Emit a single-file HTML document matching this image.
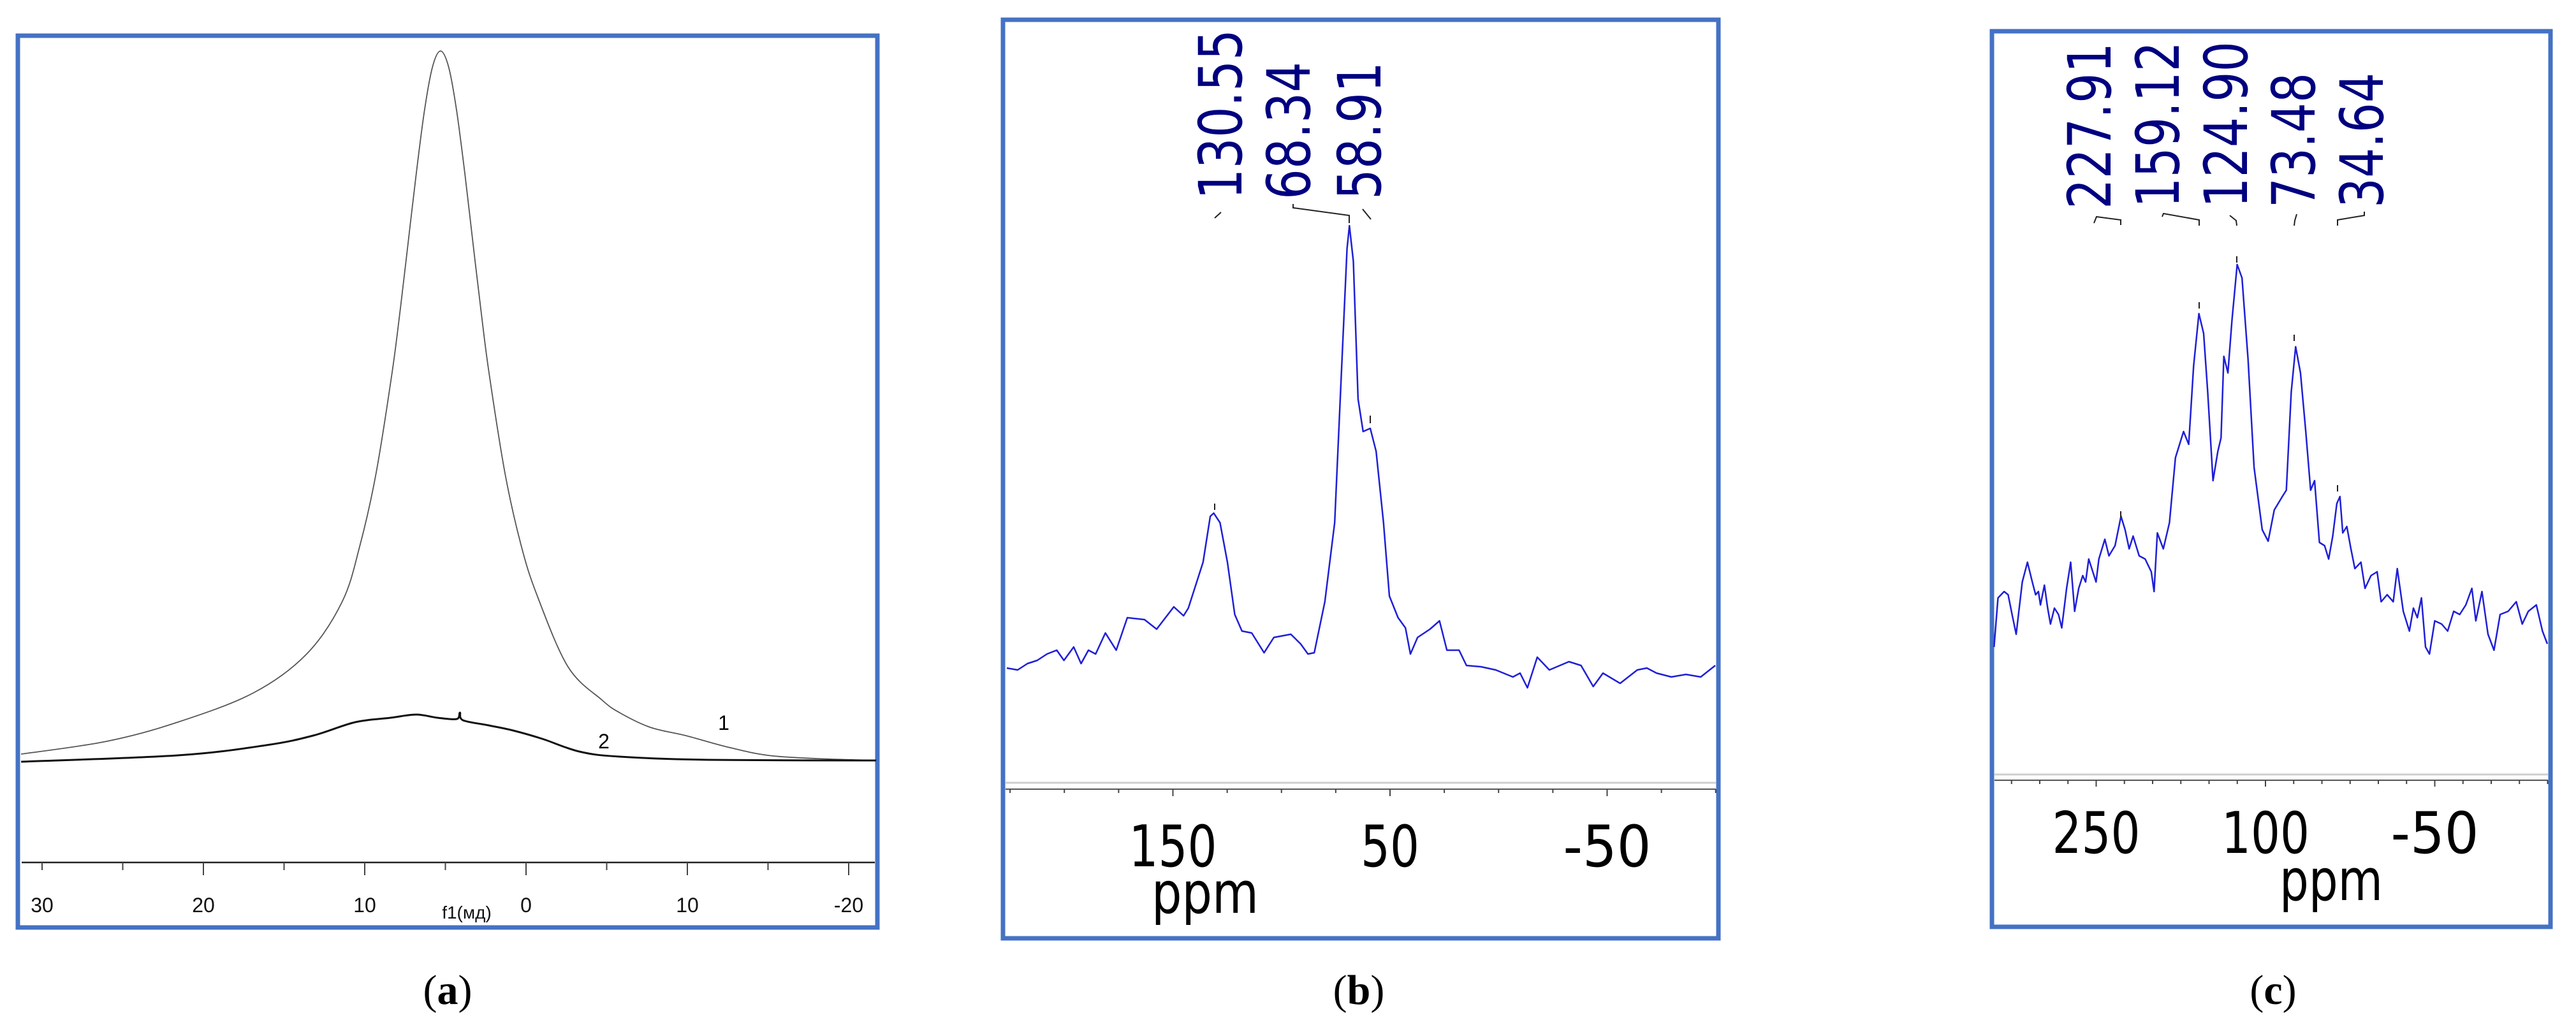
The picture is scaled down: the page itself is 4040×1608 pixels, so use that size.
<!DOCTYPE html>
<html><head><meta charset="utf-8"><style>
html,body{margin:0;padding:0;background:#fff;}
svg{display:block;}
</style></head><body>
<svg id="fig" width="4040" height="1608" viewBox="0 0 4040 1608" xmlns="http://www.w3.org/2000/svg">
<rect width="4040" height="1608" fill="#fff"/>
<g id="pa"></g>
<g id="pb"></g>
<g id="pc"></g>
</svg>
<script>
// ---------- Panel (a) data ----------
const aTickValues=[30,20,10,0,-10,-20];
const aTickLabels=["30","20","10","0","10","-20"];
const a1Ppm=[31.3,26,21.6,16.9,13.6,11.4,10.3,9.3,8.3,7.8,7.3,6.8,6.3,5.8,5.3,4.8,4.3,3.8,3.3,2.8,2.3,1.3,0.3,-0.7,-2.6,-4.7,-5.8,-7.7,-9.9,-12.5,-15,-18,-21.7];
const a1Int=[10,30,60,106,167,249,337,450,609,707,814,922,1019,1088,1113,1088,1019,922,814,707,609,450,337,258,147,95,75,52,39,21,8,3,0];
const a2Ppm=[31.3,21.6,16.1,13.2,10.6,8.4,6.8,5.5,4.3,4.1,3.9,2.3,0.8,-1.0,-3.3,-5.8,-11.3,-21.7];
const a2Int=[-2,8,24,39,60,67,72,67,65,75,63,55,47,34,14,6,1,0];
// ---------- Panel (b) data ----------
const bTickValues=[150,50,-50];
const bTickLabels=["150","50","-50"];
const bPeakLabels=["130.55","68.34","58.91"];
const bPpm=[226.5,221.5,217.0,212.5,208.0,203.5,200.2,195.7,192.3,188.9,185.6,181.1,176.1,171.0,163.1,157.5,149.6,145.1,142.9,136.1,132.8,131.2,128.3,124.9,121.5,118.2,113.7,108.0,103.5,95.7,91.2,87.8,84.9,80.0,75.5,72.1,69.8,68.7,66.9,64.7,62.4,59.1,56.4,53.0,50.3,46.3,42.9,40.6,37.3,31.6,27.2,23.8,18.2,14.8,8.1,1.3,-6.6,-9.9,-13.3,-17.8,-23.4,-32.4,-38.0,-43.6,-48.1,-56.0,-63.9,-68.3,-72.8,-79.6,-86.3,-93.1,-99.8];
const bInt=[190,187,197,202,212,218,202,223,197,218,212,245,218,269,266,251,286,272,284,356,428,433,418,356,274,248,245,214,238,243,228,212,214,294,418,674,848,884,828,612,561,566,530,418,303,269,253,212,238,251,264,218,218,194,192,187,176,182,159,207,187,200,194,161,182,166,187,190,182,176,180,176,194];
// ---------- Panel (c) data ----------
const cTickValues=[250,100,-50];
const cTickLabels=["250","100","-50"];
const cPeakLabels=["227.91","159.12","124.90","73.48","34.64"];
const cPpm=[340.5,337.0,331.6,328.0,324.5,320.9,315.5,310.9,306.6,303.7,301.2,299.4,295.9,293.0,290.5,287.0,283.4,280.5,276.2,272.6,269.1,265.5,261.9,259.4,256.6,253.0,250.1,247.6,242.3,238.7,233.3,228.0,224.4,220.8,217.3,211.9,206.6,201.2,198.7,195.8,190.5,185.1,179.8,172.6,168.0,163.7,159.0,154.8,151.2,146.5,142.2,139.4,136.9,133.3,129.7,125.1,120.8,115.4,110.1,102.9,97.6,92.2,85.1,81.5,77.2,73.3,69.0,64.3,60.0,56.5,52.2,47.6,44.0,40.4,36.8,34.0,31.5,27.9,24.3,20.8,15.4,11.8,6.5,1.1,-2.5,-7.8,-13.2,-16.8,-22.1,-27.5,-31.1,-34.6,-38.2,-41.8,-45.3,-50.0,-56.1,-61.4,-66.8,-72.1,-77.5,-82.9,-86.4,-91.8,-97.2,-102.5,-107.9,-115.0,-122.2,-127.5,-132.9,-140.0,-145.4,-149.7];
const cInt=[209,286,296,291,260,229,311,342,311,291,296,275,306,270,245,270,260,239,301,342,265,301,321,311,347,327,311,347,378,352,368,414,393,363,383,352,347,327,296,388,363,404,506,547,527,650,732,701,609,470,516,537,665,639,721,809,788,660,491,393,375,424,445,455,609,680,639,547,455,470,373,368,347,383,434,445,388,398,363,332,342,301,321,327,280,291,280,332,265,234,270,255,286,209,198,250,245,234,265,260,275,301,250,296,229,204,260,265,280,245,265,275,234,214];

const NS="http://www.w3.org/2000/svg";
function mk(parent,tag,attrs){const e=document.createElementNS(NS,tag);for(const k in attrs)e.setAttribute(k,attrs[k]);parent.appendChild(e);return e;}
function smoothPath(pts){let d="M"+pts[0][0].toFixed(1)+","+pts[0][1].toFixed(1);
 for(let i=0;i<pts.length-1;i++){const p0=pts[Math.max(0,i-1)],p1=pts[i],p2=pts[i+1],p3=pts[Math.min(pts.length-1,i+2)];
  const c1x=p1[0]+(p2[0]-p0[0])/6,c1y=p1[1]+(p2[1]-p0[1])/6,c2x=p2[0]-(p3[0]-p1[0])/6,c2y=p2[1]-(p3[1]-p1[1])/6;
  d+=" C"+c1x.toFixed(1)+","+c1y.toFixed(1)+" "+c2x.toFixed(1)+","+c2y.toFixed(1)+" "+p2[0].toFixed(1)+","+p2[1].toFixed(1);}
 return d;}
function frame(g,x,y,w,h){const r=mk(g,"rect",{x:x,y:y,width:w,height:h,fill:"none",stroke:"#4472C4","stroke-width":7});
 
 }
function caption(g,x,letter){const t=mk(g,"text",{x:x,y:1575,"text-anchor":"middle","font-family":"Liberation Serif, serif","font-size":66,fill:"#000"});
 
 
 t.innerHTML='(<tspan font-weight="bold">'+letter+'</tspan>)';}

// ---------- Panel a ----------
(function(){
 const g=document.getElementById('pa');
 const xA=p=>825-25.3*p, yA=v=>1193-v;
 frame(g,28,56,1348,1399);
 const ax=mk(g,"line",{x1:34,y1:1353,x2:1372,y2:1353,stroke:"#222","stroke-width":2.5});
 
 
 for(let v=30;v>=-20;v-=5){const major=(v%10===0)&&v!==30;
  const t=mk(g,"line",{x1:xA(v),y1:1353,x2:xA(v),y2:1353+(major?20:12),stroke:"#444","stroke-width":2});
  
  }
 aTickValues.forEach((v,i)=>{const t=mk(g,"text",{x:xA(v),y:1431,"text-anchor":"middle","font-family":"Liberation Sans, sans-serif","font-size":32,fill:"#111"});
  
  
  t.textContent=aTickLabels[i];});
 const xt=mk(g,"text",{x:732,y:1441,"text-anchor":"middle","font-family":"Liberation Sans, sans-serif","font-size":28,fill:"#111"});
 
 
 xt.textContent="f1(мд)";
 const p1=mk(g,"path",{d:smoothPath(a1Ppm.map((p,i)=>[xA(p),yA(a1Int[i])])),fill:"none",stroke:"#555","stroke-width":1.8});
 
 
 const p2=mk(g,"path",{d:smoothPath(a2Ppm.map((p,i)=>[xA(p),yA(a2Int[i])])),fill:"none",stroke:"#111","stroke-width":3});
 
 
 const l1=mk(g,"text",{x:1135,y:1145,"text-anchor":"middle","font-family":"Liberation Sans, sans-serif","font-size":32,fill:"#000"});
 
 
 l1.textContent="1";
 const l2=mk(g,"text",{x:947,y:1174,"text-anchor":"middle","font-family":"Liberation Sans, sans-serif","font-size":32,fill:"#000"});
 
 
 l2.textContent="2";
 caption(g,702,"a");
})();

function peakLabel(g,cx,bottom,len,txt){
 const t=mk(g,"text",{x:0,y:0,transform:"translate("+(cx+34)+","+bottom+") rotate(-90)","font-family":"DejaVu Sans, sans-serif","font-size":94,fill:"#000080",textLength:len,lengthAdjust:"spacingAndGlyphs"});
 
 
 t.textContent=txt;}
function lead(g,pts){const l=mk(g,"polyline",{points:pts.map(p=>p.join(",")).join(" "),fill:"none",stroke:"#222","stroke-width":2});
 
 }

// ---------- Panel b ----------
(function(){
 const g=document.getElementById('pb');
 const xB=p=>2180-(p-50)*3.405, yB=v=>1238-v;
 frame(g,1573,31,1122,1441);
 const gl=mk(g,"line",{x1:1577,y1:1228,x2:2691,y2:1228,stroke:"#cfcfcf","stroke-width":3});
 
 
 const ax=mk(g,"line",{x1:1577,y1:1238,x2:2691,y2:1238,stroke:"#555","stroke-width":2});
 
 
 for(let v=225;v>=-100;v-=25){const major=(v-50)%100===0;
  const t=mk(g,"line",{x1:xB(v),y1:1238,x2:xB(v),y2:1238+(major?11:6),stroke:"#444","stroke-width":2});
  
  }
 bTickValues.forEach((v,i)=>{const t=mk(g,"text",{x:xB(v),y:1359,"text-anchor":"middle","font-family":"DejaVu Sans, sans-serif","font-size":90,fill:"#000",textLength:bTickLabels[i].length*46,lengthAdjust:"spacingAndGlyphs"});
  
  
  t.textContent=bTickLabels[i];});
 const xt=mk(g,"text",{x:1890,y:1432,"text-anchor":"middle","font-family":"DejaVu Sans, sans-serif","font-size":90,fill:"#000",textLength:168,lengthAdjust:"spacingAndGlyphs"});
 
 
 xt.textContent="ppm";
 const sp=mk(g,"polyline",{points:bPpm.map((p,i)=>xB(p).toFixed(1)+","+yB(bInt[i]).toFixed(1)).join(" "),fill:"none",stroke:"#1f1fd6","stroke-width":2.5,"stroke-linejoin":"round"});
 
 
 const lx=[1913,2020,2131], lb=[313,313,313], ll=[267,216,216];
 bPeakLabels.forEach((s,i)=>peakLabel(g,lx[i],lb[i],ll[i],s));
 lead(g,[[1905,342],[1915,333]]);
 lead(g,[[2028,320],[2028,326],[2116,338],[2116,350]]);
 lead(g,[[2137,328],[2141,333],[2150,344]]);
 lead(g,[[1905,790],[1905,800]]);
 lead(g,[[2149,652],[2149,664]]);
 caption(g,2131,"b");
})();

// ---------- Panel c ----------
(function(){
 const g=document.getElementById('pc');
 const xC=p=>3553-(p-100)*1.77, yC=v=>1224-v;
 frame(g,3124,49,876,1405);
 const gl=mk(g,"line",{x1:3128,y1:1215,x2:3996,y2:1215,stroke:"#cfcfcf","stroke-width":3});
 
 
 const ax=mk(g,"line",{x1:3128,y1:1224,x2:3996,y2:1224,stroke:"#555","stroke-width":2});
 
 
 for(let v=325;v>=-150;v-=25){const major=(v-100)%150===0;
  const t=mk(g,"line",{x1:xC(v),y1:1224,x2:xC(v),y2:1224+(major?10:6),stroke:"#444","stroke-width":2});
  
  }
 cTickValues.forEach((v,i)=>{const t=mk(g,"text",{x:xC(v),y:1338,"text-anchor":"middle","font-family":"DejaVu Sans, sans-serif","font-size":90,fill:"#000",textLength:cTickLabels[i].length*46,lengthAdjust:"spacingAndGlyphs"});
  
  
  t.textContent=cTickLabels[i];});
 const xt=mk(g,"text",{x:3656,y:1412,"text-anchor":"middle","font-family":"DejaVu Sans, sans-serif","font-size":90,fill:"#000",textLength:162,lengthAdjust:"spacingAndGlyphs"});
 
 
 xt.textContent="ppm";
 const sp=mk(g,"polyline",{points:cPpm.map((p,i)=>xC(p).toFixed(1)+","+yC(cInt[i]).toFixed(1)).join(" "),fill:"none",stroke:"#1f1fd6","stroke-width":2.5,"stroke-linejoin":"round"});
 
 
 const lx=[3276,3383,3490,3596,3703], lb=[328,326,326,326,326], ll=[261,261,261,212,212];
 cPeakLabels.forEach((s,i)=>peakLabel(g,lx[i],lb[i],ll[i],s));
 lead(g,[[3284,350],[3288,340],[3326,345],[3326,353]]);
 lead(g,[[3391,340],[3393,335],[3449,345],[3449,354]]);
 lead(g,[[3497,338],[3507,346],[3508,354]]);
 lead(g,[[3602,336],[3599,346],[3598,354]]);
 lead(g,[[3708,332],[3708,338],[3666,345],[3666,354]]);
 lead(g,[[3326,802],[3326,812]]);
 lead(g,[[3449,474],[3449,484]]);
 lead(g,[[3508,402],[3508,412]]);
 lead(g,[[3598,525],[3598,535]]);
 lead(g,[[3666,761],[3666,771]]);
 caption(g,3565,"c");
})();
</script>
</body></html>
